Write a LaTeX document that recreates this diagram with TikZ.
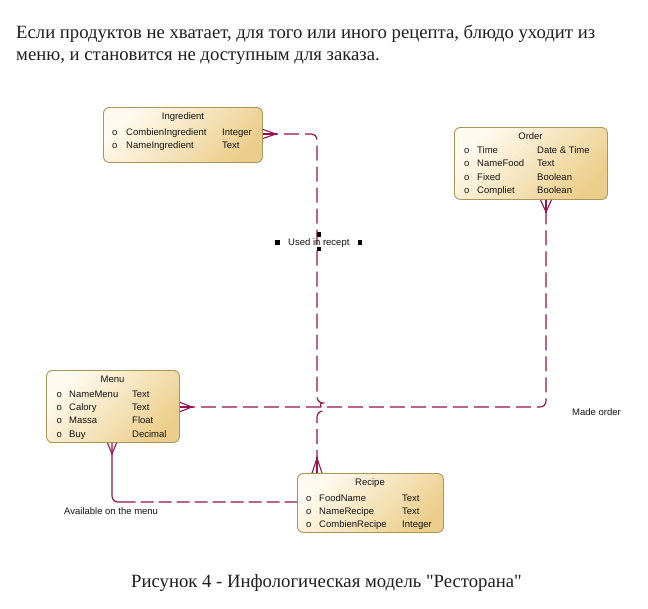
\documentclass[tikz,border=0pt]{standalone}
\usepackage{fontspec}
\setmainfont{Liberation Serif}[Ligatures=TeXOff]
\newfontfamily\diag{Liberation Sans}
\usetikzlibrary{calc}
\definecolor{relc}{RGB}{148,18,84}
\definecolor{boxlight}{RGB}{255,251,240}
\definecolor{boxdark}{RGB}{236,206,140}
\definecolor{boxline}{RGB}{170,150,90}
\definecolor{txt}{RGB}{20,20,20}
\begin{document}
\begin{tikzpicture}[x=1pt,y=-1pt,
 entbox/.style={draw=boxline, line width=0.9pt, rounded corners=6pt, top color=boxlight, bottom color=boxdark, shading angle=45, inner sep=0, anchor=north west},
 ttl/.style={font=\diag\fontsize{9.5}{11}\selectfont, text=txt, anchor=base, inner sep=0},
 attr/.style={font=\diag\fontsize{9.5}{11}\selectfont, text=txt, anchor=base west, inner sep=0},
 rel/.style={draw=relc, line width=1.15pt, dash pattern=on 15pt off 6pt},
 relthree/.style={draw=relc, line width=1.15pt, dash pattern=on 80pt off 5pt on 13pt off 5pt on 13pt off 5pt on 13pt off 5pt on 13pt off 5pt on 13pt off 5pt on 13pt off 5pt on 13pt off 5pt on 13pt off 5pt on 13pt off 5pt on 13pt off 5pt on 13pt off 5pt},
 crow/.style={draw=relc, line width=1.1pt},
 handle/.style={fill=black, inner sep=0, minimum size=4.5pt},
 lbl/.style={font=\diag\fontsize{9.5}{11}\selectfont, text=txt, inner sep=0, anchor=base west},
 para/.style={font=\fontsize{18.7}{22}\selectfont, text=black!88, inner sep=0}
]
\useasboundingbox[fill=white] (0,0) rectangle (648,608);

% paragraph
\node[para, anchor=base west] (p1) at (16,38.5) {Если продуктов не хватает, для того или иного рецепта, блюдо уходит из};
\node[para, anchor=base west] (p2) at (16,60.5) {меню, и становится не доступным для заказа.};

% boxes
\node[entbox, minimum width=159pt, minimum height=55pt] (ing) at (103,107) {};
\node[entbox, minimum width=153pt, minimum height=72pt] (ord) at (454,127) {};
\node[entbox, minimum width=133pt, minimum height=72pt] (men) at (46,370) {};
\node[entbox, minimum width=146pt, minimum height=59pt] (rec) at (297,473) {};

% Ingredient
\node[ttl] (ingT) at (183,119.3) {Ingredient};
\node[attr] (ingo1) at (112,135.5) {o};
\node[attr] (ingn1) at (126,135.5) {CombienIngredient};
\node[attr] (ingt1) at (222,135.5) {Integer};
\node[attr] (ingo2) at (112,148.5) {o};
\node[attr] (ingn2) at (126,148.5) {NameIngredient};
\node[attr] (ingt2) at (222,148.5) {Text};

% Order
\node[ttl] (ordT) at (530.5,139) {Order};
\node[attr] (ordo1) at (464,153.5) {o};
\node[attr] (ordn1) at (477,153.5) {Time};
\node[attr] (ordt1) at (537,153.5) {Date \& Time};
\node[attr] (ordo2) at (464,166.8) {o};
\node[attr] (ordn2) at (477,166.8) {NameFood};
\node[attr] (ordt2) at (537,166.8) {Text};
\node[attr] (ordo3) at (464,180) {o};
\node[attr] (ordn3) at (477,180) {Fixed};
\node[attr] (ordt3) at (537,180) {Boolean};
\node[attr] (ordo4) at (464,193.3) {o};
\node[attr] (ordn4) at (477,193.3) {Compliet};
\node[attr] (ordt4) at (537,193.3) {Boolean};

% Menu
\node[ttl] (menT) at (112.5,382.5) {Menu};
\node[attr] (meno1) at (56.5,397) {o};
\node[attr] (menn1) at (69,397) {NameMenu};
\node[attr] (ment1) at (132,397) {Text};
\node[attr] (meno2) at (56.5,410.5) {o};
\node[attr] (menn2) at (69,410.5) {Calory};
\node[attr] (ment2) at (132,410.5) {Text};
\node[attr] (meno3) at (56.5,423.7) {o};
\node[attr] (menn3) at (69,423.7) {Massa};
\node[attr] (ment3) at (132,423.7) {Float};
\node[attr] (meno4) at (56.5,437) {o};
\node[attr] (menn4) at (69,437) {Buy};
\node[attr] (ment4) at (132,437) {Decimal};

% Recipe
\node[ttl] (recT) at (370,485.3) {Recipe};
\node[attr] (reco1) at (306,501) {o};
\node[attr] (recn1) at (319,501) {FoodName};
\node[attr] (rect1) at (402,501) {Text};
\node[attr] (reco2) at (306,514.3) {o};
\node[attr] (recn2) at (319,514.3) {NameRecipe};
\node[attr] (rect2) at (402,514.3) {Text};
\node[attr] (reco3) at (306,527.5) {o};
\node[attr] (recn3) at (319,527.5) {CombienRecipe};
\node[attr] (rect3) at (402,527.5) {Integer};

% bend points
\coordinate (j1) at (317,134);
\coordinate (h1) at (317,403);
\coordinate (j2) at (546,407);
\coordinate (j3) at (112,502);

% Ingredient -- Recipe
\draw[rel, rounded corners=6pt] (ing.east |- j1) -- (j1) -- (h1)
  arc[start angle=-90, end angle=90, radius=4] -- (rec.north -| j1);
\draw[crow] ($(ing.east |- j1)+(0,-4.5)$) -- ($(ing.east |- j1)+(13,0)$) -- ($(ing.east |- j1)+(0,4.5)$);
\draw[crow] (ing.east |- j1) -- ++(14,0);
\draw[crow] ($(rec.north -| j1)+(-5,0)$) -- ($(rec.north -| j1)+(0,-15)$) -- ($(rec.north -| j1)+(5,0)$);
\draw[crow] (rec.north -| j1) -- ++(0,-16);

% Menu -- Order
\draw[rel, rounded corners=6pt] (men.east |- j2) -- (j2) -- (ord.south -| j2);
\draw[crow] ($(men.east |- j2)+(0,-4.7)$) -- ($(men.east |- j2)+(12,0)$) -- ($(men.east |- j2)+(0,4.7)$);
\draw[crow] (men.east |- j2) -- ++(13,0);
\draw[crow] ($(ord.south -| j2)+(-5.5,0)$) -- ($(ord.south -| j2)+(0,12)$) -- ($(ord.south -| j2)+(5.5,0)$);
\draw[crow] (ord.south -| j2) -- ++(0,13);

% Menu -- Recipe
\draw[relthree, rounded corners=6pt] (men.south -| j3) -- (j3) -- (rec.west |- j3);
\draw[crow] ($(men.south -| j3)+(-4.5,0)$) -- ($(men.south -| j3)+(0,11)$) -- ($(men.south -| j3)+(4.5,0)$);

% labels
\node[lbl] (l1) at (288,245.5) {Used in recept};
\node[handle] (hd1) at (277.5,242.5) {};
\node[handle] (hd2) at (360,242.5) {};
\node[handle] (hd3) at (319,234.7) {};
\node[handle] (hd4) at (319,249) {};
\node[lbl] (l2) at (64,514) {Available on the menu};
\node[lbl] (l3) at (572,415) {Made order};

% caption
\node[para, anchor=base] (cap) at (326.5,587.5) {Рисунок 4 - Инфологическая модель "Ресторана"};
\end{tikzpicture}
\end{document}
